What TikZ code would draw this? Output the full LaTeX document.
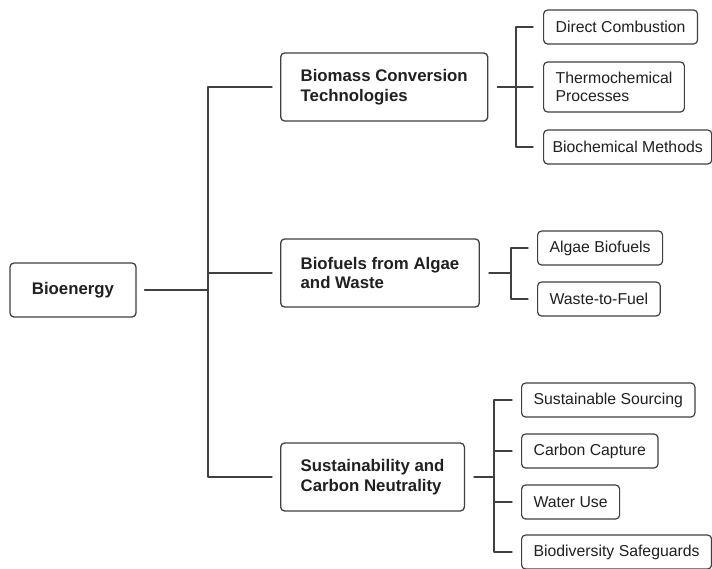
\documentclass[tikz,border=0pt]{standalone}
\usepackage{fontspec}
\setmainfont{Liberation Sans}
\usepackage{pgf,tikz}
\definecolor{sqsqsq}{rgb}{0.125,0.125,0.125}
\definecolor{ududud}{rgb}{0.25,0.25,0.25}

\begin{document}
\begin{tikzpicture}[line cap=round,line join=round,x=1.0pt,y=-1.0pt,
	rootbox/.style={draw=ududud,line width=1.3pt,rounded corners=4pt,text=sqsqsq,minimum height=54pt,minimum width=126pt,font=\bfseries\fontsize{16.8}{19.5}\selectfont},
	mainbox/.style={draw=ududud,line width=1.3pt,rounded corners=4pt,text=sqsqsq,anchor=west,align=left,minimum height=68pt,inner xsep=20pt,font=\bfseries\fontsize{16.8}{19.5}\selectfont},
	leafbox/.style={draw=ududud,line width=1.2pt,rounded corners=4pt,text=sqsqsq,anchor=west,align=left,minimum height=34pt,inner xsep=12pt,font=\fontsize{15.8}{18}\selectfont},
	link/.style={draw=ududud,line width=1.4pt}]
	\fill[white] (0,0) rectangle (712,568);
	\useasboundingbox (0,0) rectangle (712,568);
	\node[rootbox] (bioenergy) at (73,290) {Bioenergy};
	\node[mainbox] (biomass) at (280,87) {Biomass Conversion\\Technologies};
	\node[mainbox] (biofuels) at (280,273) {Biofuels from Algae\\and Waste};
	\node[mainbox] (sustain) at (280,477) {Sustainability and\\Carbon Neutrality};
	\node[leafbox] (combustion) at (543,27) {Direct Combustion};
	\node[leafbox,minimum height=50pt] (thermo) at (543,87) {Thermochemical\\Processes};
	\node[leafbox,inner xsep=9pt] (biochem) at (543,147) {Biochemical Methods};
	\node[leafbox] (algae) at (537,248) {Algae Biofuels};
	\node[leafbox] (waste) at (537,299) {Waste-to-Fuel};
	\node[leafbox] (sourcing) at (521,400) {Sustainable Sourcing};
	\node[leafbox] (capture) at (521,451) {Carbon Capture};
	\node[leafbox] (water) at (521,502) {Water Use};
	\node[leafbox] (biodiv) at (521,552) {Biodiversity Safeguards};
	% trunk
	\coordinate (j0) at (208,290);
	\draw[link,shorten <=8pt] (bioenergy.east) -- (j0);
	\draw[link,shorten >=8pt] (j0) |- (biomass.west);
	\draw[link,shorten >=8pt] (j0) |- (biofuels.west);
	\draw[link,shorten >=8pt] (j0) |- (sustain.west);
	% branches
	\coordinate (j1) at (516,87);
	\draw[link,shorten <=9pt] (biomass.east) -- (j1);
	\draw[link,shorten >=10pt] (j1) |- (combustion.west);
	\draw[link,shorten >=10pt] (j1) |- (thermo.west);
	\draw[link,shorten >=10pt] (j1) |- (biochem.west);
	\coordinate (j2) at (511,273);
	\draw[link,shorten <=9pt] (biofuels.east) -- (j2);
	\draw[link,shorten >=9pt] (j2) |- (algae.west);
	\draw[link,shorten >=9pt] (j2) |- (waste.west);
	\coordinate (j3) at (494,477);
	\draw[link,shorten <=9pt] (sustain.east) -- (j3);
	\draw[link,shorten >=9pt] (j3) |- (sourcing.west);
	\draw[link,shorten >=9pt] (j3) |- (capture.west);
	\draw[link,shorten >=9pt] (j3) |- (water.west);
	\draw[link,shorten >=9pt] (j3) |- (biodiv.west);
\end{tikzpicture}
\end{document}
